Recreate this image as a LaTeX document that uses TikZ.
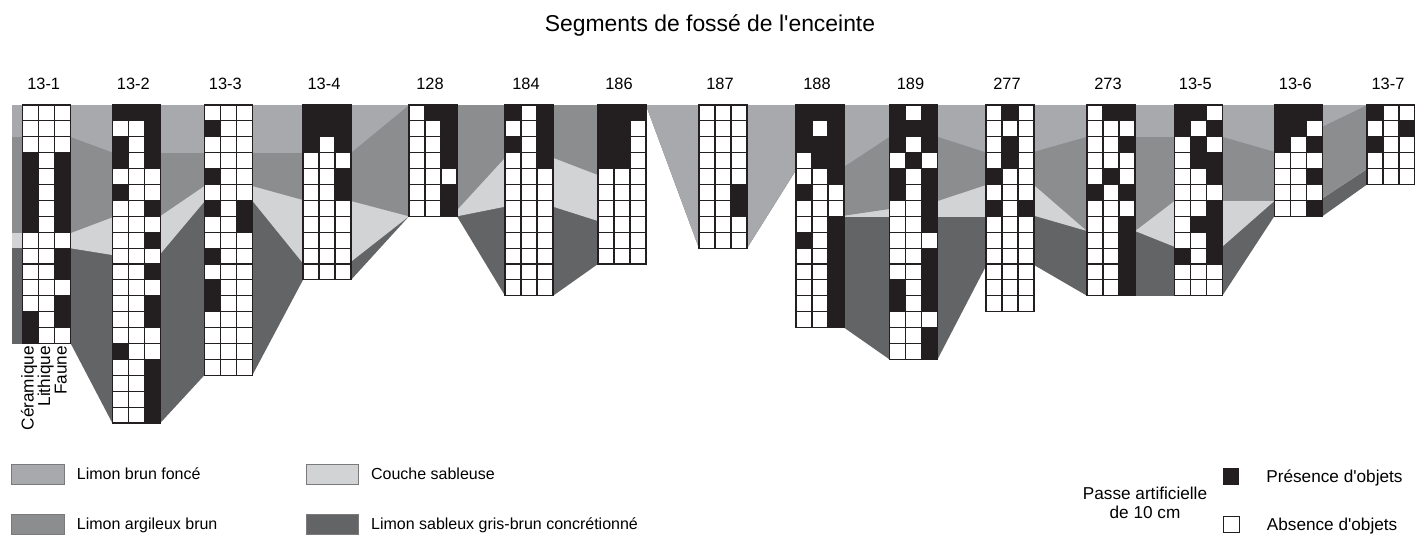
\documentclass[tikz,border=0pt]{standalone}
\usepackage{fontspec}
\setmainfont{Liberation Sans}
\usetikzlibrary{positioning}

\definecolor{fonce}{RGB}{167,169,172}
\definecolor{argileux}{RGB}{140,141,143}
\definecolor{sableuse}{RGB}{209,211,212}
\definecolor{concretion}{RGB}{99,100,102}
\definecolor{ink}{RGB}{35,31,32}

\tikzset{
  cell/.style={draw=ink, line width=1.1pt},
  lab/.style={font=\fontsize{16.4}{18}\selectfont, inner sep=0pt, anchor=base},
  titre/.style={font=\fontsize{22.9}{26}\selectfont, inner sep=0pt, anchor=base},
  leg/.style={font=\fontsize{17.2}{19}\selectfont, inner sep=0pt, text height=12.3pt, text depth=0pt},
  legsol/.style={font=\fontsize{16}{18}\selectfont, inner sep=0pt, text height=11.5pt, text depth=0pt},
  legnote/.style={font=\fontsize{17.2}{19}\selectfont, inner sep=0pt, align=center},
  legbox/.style={draw=ink!60, line width=0.8pt, minimum width=52.6pt, minimum height=20pt, inner sep=0pt},
  swatch/.style={draw=ink, line width=0.8pt, minimum size=15.5pt, inner sep=0pt}
}

% one trench segment: name, left x, label, passes (ceramique/lithique/faune)
\newcommand\passes[4]{%
  \node[lab] (#1) at (#2+21,89) {#3};
  \foreach \ce/\li/\fa [count=\r from 0] in {#4} {
    \foreach \bit [count=\k from 0] in {\ce,\li,\fa} {
      \ifnum\bit=1 \def\cellcol{ink}\else\def\cellcol{white}\fi
      \filldraw[cell, fill=\cellcol] (#2+16*\k,105+15.9*\r) rectangle ++(16,15.9);
    }
  }
}

\begin{document}
\begin{tikzpicture}[x=1pt,y=-1pt]
\useasboundingbox (0,0) rectangle (1415,535);

\node[titre] (titre) at (710,32) {Segments de fossé de l\textquotesingle enceinte};

% layers between the segments
\foreach \xl/\xr/\fL/\fR/\aL/\aR/\sL/\sR/\dL/\dR in {
  11.7/22.7/137/137/233/233/248.3/248.3/343.5/343.5,
  70.7/112.3/137/152.3/233/217.3/248.3/255/343.5/423,
  160.3/204.3/152.7/152.7/216/186/254/201.7/423/375.3,
  252.3/303/152.7/152.7/186/200/200.7/263.3/375.3/279.9,
  351/409/152.7/105/201/216.3/261.7/216.3/279.9/216.3,
  457/505/105/105/210/157.7/216.3/206.7/216.3/295.8,
  553/598/105/105/157.7/175/206.7/221/295.8/264,
  646/699/105/248.1/105/248.1/105/248.1/105/248.1,
  747/796/248.1/170/248.1/170/248.1/170/248.1/170,
  844/889.5/166.7/136.7/215.7/209/216.5/216.5/327.6/359.4,
  937.5/986/136.7/152.3/201/185/216.5/216.5/359.4/266,
  1034/1087/151.7/136.7/185/231/215.7/231/265/295.8,
  1135/1174.3/136.7/136.7/231/201/231/246.7/295.8/295.8,
  1222.3/1274.3/136.7/151.7/201/201/246.7/201/295.8/216.3,
  1322.3/1367/126.7/105/198.3/169/198.3/169/216.3/184.5}{
  \fill[concretion] (\xl,105) -- (\xr,105) -- (\xr,\dR) -- (\xl,\dL) -- cycle;
  \fill[sableuse] (\xl,105) -- (\xr,105) -- (\xr,\sR) -- (\xl,\sL) -- cycle;
  \fill[argileux] (\xl,105) -- (\xr,105) -- (\xr,\aR) -- (\xl,\aL) -- cycle;
  \fill[fonce] (\xl,105) -- (\xr,105) -- (\xr,\fR) -- (\xl,\fL) -- cycle;
}

\passes{s131}{22.7}{13-1}{0/0/0,0/0/0,0/0/0,1/0/1,1/0/1,1/0/1,1/0/1,1/0/1,0/0/0,0/0/1,0/0/1,0/0/0,0/0/1,1/0/1,1/0/0}
\passes{s132}{112.3}{13-2}{1/1/1,0/0/1,1/0/1,1/0/1,0/0/0,1/0/0,0/0/1,0/0/0,0/0/1,0/0/0,0/0/1,0/0/0,0/0/1,0/0/1,0/0/0,1/0/0,0/0/1,0/0/1,0/0/1,0/0/1}
\passes{s133}{204.3}{13-3}{0/0/0,1/0/0,0/0/0,0/0/0,1/0/0,0/0/0,1/0/1,0/0/1,0/0/0,1/0/0,0/0/0,1/0/0,1/0/0,0/0/0,0/0/0,0/0/0,0/0/0}
\passes{s134}{303}{13-4}{1/1/1,1/1/1,1/0/1,0/0/0,0/0/1,0/0/1,0/0/0,0/0/0,0/0/0,0/0/0,0/0/0}
\passes{s128}{409}{128}{0/1/1,0/0/1,0/0/1,0/0/1,0/0/0,0/0/1,0/0/1}
\passes{s184}{505}{184}{1/0/1,0/0/1,1/0/1,0/0/1,0/0/0,0/0/0,0/0/0,0/0/0,0/0/0,0/0/0,0/0/0,0/0/0}
\passes{s186}{598}{186}{1/1/1,1/1/0,1/1/0,1/1/0,0/0/0,0/0/0,0/0/0,0/0/0,0/0/0,0/0/0}
\passes{s187}{699}{187}{0/0/0,0/0/0,0/0/0,0/0/0,0/0/0,0/0/1,0/0/1,0/0/0,0/0/0}
\passes{s188}{796}{188}{1/1/1,1/0/1,1/1/1,0/1/1,0/0/1,1/0/0,0/0/0,0/0/1,1/0/1,0/0/1,0/0/1,0/0/1,0/0/1,0/0/1}
\passes{s189}{889.5}{189}{1/0/1,1/1/1,1/0/1,0/1/0,1/0/1,1/0/1,0/0/1,0/0/1,0/0/0,0/0/1,0/0/1,1/0/1,1/0/1,0/0/0,0/0/1,0/0/1}
\passes{s277}{986}{277}{0/1/0,0/0/0,0/1/0,0/1/0,1/0/0,0/0/0,1/0/1,0/0/0,0/0/0,0/0/0,0/0/0,0/0/0,0/0/0}
\passes{s273}{1087}{273}{0/1/1,0/0/0,0/0/1,0/0/0,0/1/0,1/0/1,0/0/0,0/0/1,0/0/1,0/0/1,0/0/1,0/0/1}
\passes{s135}{1174.3}{13-5}{1/1/0,1/0/1,0/1/0,0/1/1,0/0/1,0/0/0,0/0/1,0/1/1,0/0/1,1/0/1,0/0/0,0/0/0}
\passes{s136}{1274.3}{13-6}{1/1/1,1/1/0,1/0/1,0/0/0,0/0/1,0/0/0,0/0/1}
\passes{s137}{1367}{13-7}{1/0/0,0/0/1,1/0/0,0/0/0,0/0/0}

% categories under 13-1
\node[leg, rotate=90, anchor=east] (ceram) at (27.5,346) {Céramique};
\node[leg, rotate=90, anchor=east] (lith) at (44,346) {Lithique};
\node[leg, rotate=90, anchor=east] (faune) at (60.5,346) {Faune};

% legend
\node[legbox, fill=fonce] (kfonce) at (38,474) {};
\node[legsol, right=12pt of kfonce] (tfonce) {Limon brun foncé};
\node[legbox, fill=argileux] (kargileux) at (38,524) {};
\node[legsol, right=12pt of kargileux] (targileux) {Limon argileux brun};
\node[legbox, fill=sableuse] (ksableuse) at (332.2,474) {};
\node[legsol, right=12pt of ksableuse] (tsableuse) {Couche sableuse};
\node[legbox, fill=concretion] (kconcretion) at (332.2,524) {};
\node[legsol, right=12pt of kconcretion] (tconcretion) {Limon sableux gris-brun concrétionné};

\node[legnote] (passe) at (1145,502.5) {Passe artificielle\\de 10 cm};
\node[swatch, fill=ink] (kpresence) at (1231,476.5) {};
\node[leg, right=27pt of kpresence] (tpresence) {Présence d\textquotesingle objets};
\node[swatch, fill=white] (kabsence) at (1231.5,524.5) {};
\node[leg, right=27pt of kabsence] (tabsence) {Absence d\textquotesingle objets};
\end{tikzpicture}
\end{document}
